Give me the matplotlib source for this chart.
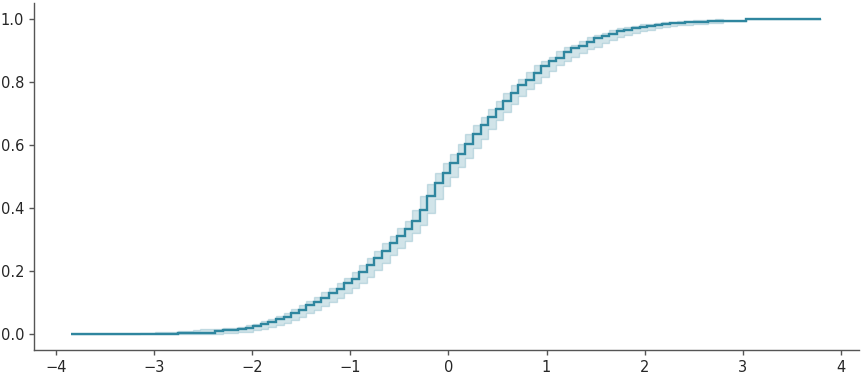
import numpy as np
import matplotlib
matplotlib.use("Agg")
import matplotlib.pyplot as plt

# bins of the cumulative step curve (99 equal bins)
x_first = -3.84
x_last = 3.80
n_bins = 99

# cumulative fraction per bin
cdf = [0.001, 0.001, 0.001, 0.001, 0.001, 0.001, 0.001, 0.001, 0.001, 0.001,
       0.001, 0.002, 0.002, 0.002, 0.003, 0.003, 0.003, 0.004, 0.005, 0.011,
       0.012, 0.013, 0.016, 0.019, 0.025, 0.032, 0.039, 0.047, 0.054, 0.068,
       0.078, 0.093, 0.103, 0.114, 0.131, 0.145, 0.161, 0.176, 0.196, 0.219,
       0.241, 0.263, 0.289, 0.312, 0.335, 0.360, 0.395, 0.440, 0.480, 0.510,
       0.543, 0.573, 0.605, 0.635, 0.663, 0.690, 0.716, 0.740, 0.764, 0.792,
       0.808, 0.830, 0.852, 0.866, 0.876, 0.895, 0.909, 0.913, 0.927, 0.941,
       0.945, 0.953, 0.962, 0.966, 0.971, 0.976, 0.978, 0.981, 0.983, 0.986,
       0.988, 0.990, 0.991, 0.992, 0.995, 0.995, 0.995, 0.995, 0.995, 0.999,
       0.999, 0.999, 0.999, 0.999, 0.999, 0.999, 0.999, 0.999, 1.000]

cdf_low = [0.001, 0.001, 0.001, 0.001, 0.001, 0.001, 0.001, 0.001, 0.001, 0.000,
           0.000, 0.000, 0.000, 0.000, 0.000, 0.001, 0.001, 0.001, 0.002, 0.002,
           0.003, 0.004, 0.006, 0.008, 0.012, 0.018, 0.023, 0.030, 0.036, 0.045,
           0.055, 0.066, 0.077, 0.090, 0.102, 0.116, 0.131, 0.147, 0.162, 0.180,
           0.203, 0.226, 0.250, 0.272, 0.296, 0.320, 0.345, 0.385, 0.430, 0.470,
           0.500, 0.530, 0.560, 0.590, 0.620, 0.650, 0.680, 0.705, 0.730, 0.755,
           0.778, 0.798, 0.815, 0.835, 0.853, 0.866, 0.878, 0.893, 0.905, 0.912,
           0.925, 0.935, 0.942, 0.950, 0.956, 0.961, 0.966, 0.971, 0.974, 0.977,
           0.980, 0.982, 0.983, 0.985, 0.987, 0.988, 0.995, 0.995, 0.995, 0.999,
           0.999, 0.999, 0.999, 0.999, 0.999, 0.999, 0.999, 0.999, 1.000]

cdf_high = [0.001, 0.001, 0.001, 0.001, 0.001, 0.001, 0.001, 0.001, 0.001, 0.004,
            0.004, 0.006, 0.007, 0.008, 0.010, 0.011, 0.013, 0.015, 0.016, 0.018,
            0.019, 0.021, 0.024, 0.028, 0.034, 0.042, 0.049, 0.059, 0.067, 0.080,
            0.094, 0.105, 0.118, 0.133, 0.146, 0.162, 0.178, 0.197, 0.219, 0.242,
            0.263, 0.290, 0.313, 0.336, 0.360, 0.394, 0.440, 0.478, 0.510, 0.543,
            0.573, 0.605, 0.635, 0.663, 0.690, 0.716, 0.740, 0.764, 0.792, 0.810,
            0.832, 0.853, 0.868, 0.880, 0.897, 0.911, 0.917, 0.929, 0.943, 0.948,
            0.956, 0.964, 0.970, 0.975, 0.979, 0.983, 0.985, 0.988, 0.990, 0.992,
            0.994, 0.995, 0.996, 0.997, 0.998, 0.999, 0.995, 0.995, 0.995, 0.999,
            0.999, 0.999, 0.999, 0.999, 0.999, 0.999, 0.999, 0.999, 1.000]

line_color = '#2f869f'

edges = np.linspace(x_first, x_last, n_bins + 1)

fig = plt.figure(figsize=(8.62, 3.75), dpi=100)
ax = fig.add_axes([0.0394, 0.0667, 0.957, 0.9246])

# uncertainty band
ax.stairs(cdf_high, edges, baseline=cdf_low, fill=True,
          facecolor=line_color, edgecolor=line_color, alpha=0.22, linewidth=1.0)
# cumulative step line
ax.stairs(cdf, edges, baseline=None, color=line_color, linewidth=1.7)

span = edges[-1] - edges[0]
ax.set_xlim(edges[0] - 0.05 * span, edges[-1] + 0.05 * span)
ax.set_ylim(-0.05, 1.05)
ax.set_xticks([-4, -3, -2, -1, 0, 1, 2, 3, 4])
ax.set_yticks([0.0, 0.2, 0.4, 0.6, 0.8, 1.0])

for side in ['top', 'right']:
    ax.spines[side].set_visible(False)
for side in ['left', 'bottom']:
    ax.spines[side].set_color('#555555')
    ax.spines[side].set_linewidth(1.0)
ax.tick_params(axis='both', colors='#555555', labelcolor='#262626',
               labelsize=10.5, length=3.5, width=1.0)

fig.savefig('out.png', dpi=100)
